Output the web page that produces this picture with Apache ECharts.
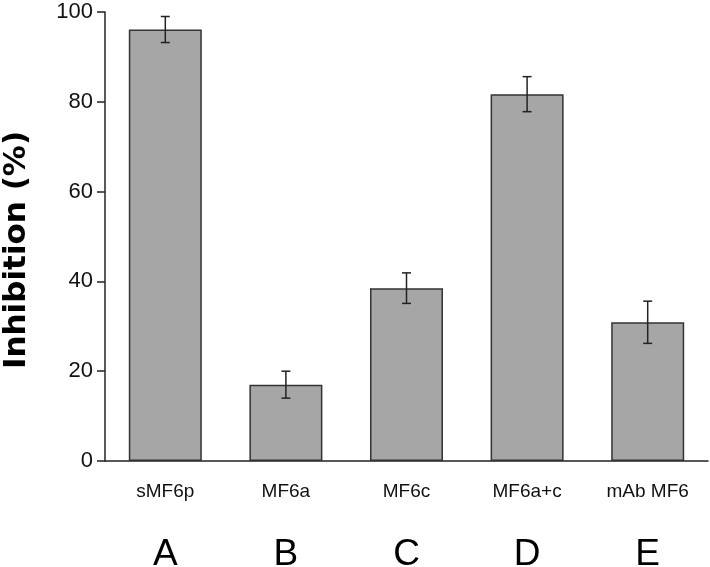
<!DOCTYPE html>
<html>
<head>
<meta charset="utf-8">
<script src="https://cdn.jsdelivr.net/npm/echarts@6/dist/echarts.min.js"></script>
<style>
  html, body { margin: 0; padding: 0; background: #fff; }
  #main { width: 710px; height: 567px; }
</style>
</head>
<body>
<div id="main"></div>
<script>
// data
var categories = ['sMF6p', 'MF6a', 'MF6c', 'MF6a+c', 'mAb MF6'];
var letters = ['A', 'B', 'C', 'D', 'E'];
var inhibition = [96.1, 17.0, 38.5, 81.7, 30.9];
var errors = [2.9, 3.0, 3.4, 3.9, 4.7];
var yTicks = [0, 20, 40, 60, 80, 100];

var chart = echarts.init(document.getElementById('main'));

var errData = inhibition.map(function (v, i) {
  return [i, v - errors[i], v + errors[i]];
});

chart.setOption({
  animation: false,
  textStyle: { fontFamily: 'Liberation Sans, Arial, sans-serif' },
  grid: { left: 105, right: 2, top: 12, bottom: 106, containLabel: false, outerBoundsMode: 'none' },
  graphic: [{
    type: 'text',
    x: 17,
    y: 250,
    rotation: Math.PI / 2,
    style: {
      text: 'Inhibition (%)',
      font: 'bold 31px "DejaVu Sans", sans-serif',
      fill: '#000',
      align: 'center',
      verticalAlign: 'middle'
    }
  }],
  xAxis: {
    type: 'category',
    data: categories,
    axisLine: { lineStyle: { color: '#222', width: 1.5 } },
    axisTick: { alignWithLabel: true, length: 8, lineStyle: { color: '#222', width: 1.5 } },
    axisLabel: {
      margin: 14,
      formatter: function (val, idx) {
        return '{a|' + val + '}\n{b|' + letters[idx] + '}';
      },
      rich: {
        a: { fontSize: 19, lineHeight: 34, color: '#111', fontFamily: 'Liberation Sans' },
        b: { fontSize: 37, lineHeight: 92, color: '#000', fontFamily: 'Liberation Sans' }
      }
    }
  },
  yAxis: {
    type: 'value',
    min: 0,
    max: 100,
    interval: 20,
    axisLine: { show: true, lineStyle: { color: '#222', width: 1.5 } },
    axisTick: { show: true, length: 8, lineStyle: { color: '#222', width: 1.5 } },
    axisLabel: {
      fontSize: 22, color: '#111', margin: 12,
      formatter: function (v) { return yTicks.indexOf(v) >= 0 ? String(v) : ''; }
    },
    splitLine: { show: false }
  },
  series: [{
    type: 'bar',
    data: inhibition,
    barWidth: 73,
    itemStyle: { color: '#a6a6a6', borderColor: '#333', borderWidth: 1.5 }
  }, {
    type: 'custom',
    data: errData,
    z: 10,
    renderItem: function (params, api) {
      var lo = api.coord([api.value(0), api.value(1)]);
      var hi = api.coord([api.value(0), api.value(2)]);
      var hw = 4.5;
      var st = { stroke: '#222', lineWidth: 1.5 };
      return {
        type: 'group',
        children: [
          { type: 'line', shape: { x1: lo[0], y1: lo[1], x2: hi[0], y2: hi[1] }, style: st },
          { type: 'line', shape: { x1: lo[0] - hw, y1: lo[1], x2: lo[0] + hw, y2: lo[1] }, style: st },
          { type: 'line', shape: { x1: hi[0] - hw, y1: hi[1], x2: hi[0] + hw, y2: hi[1] }, style: st }
        ]
      };
    }
  }]
});
</script>
</body>
</html>
